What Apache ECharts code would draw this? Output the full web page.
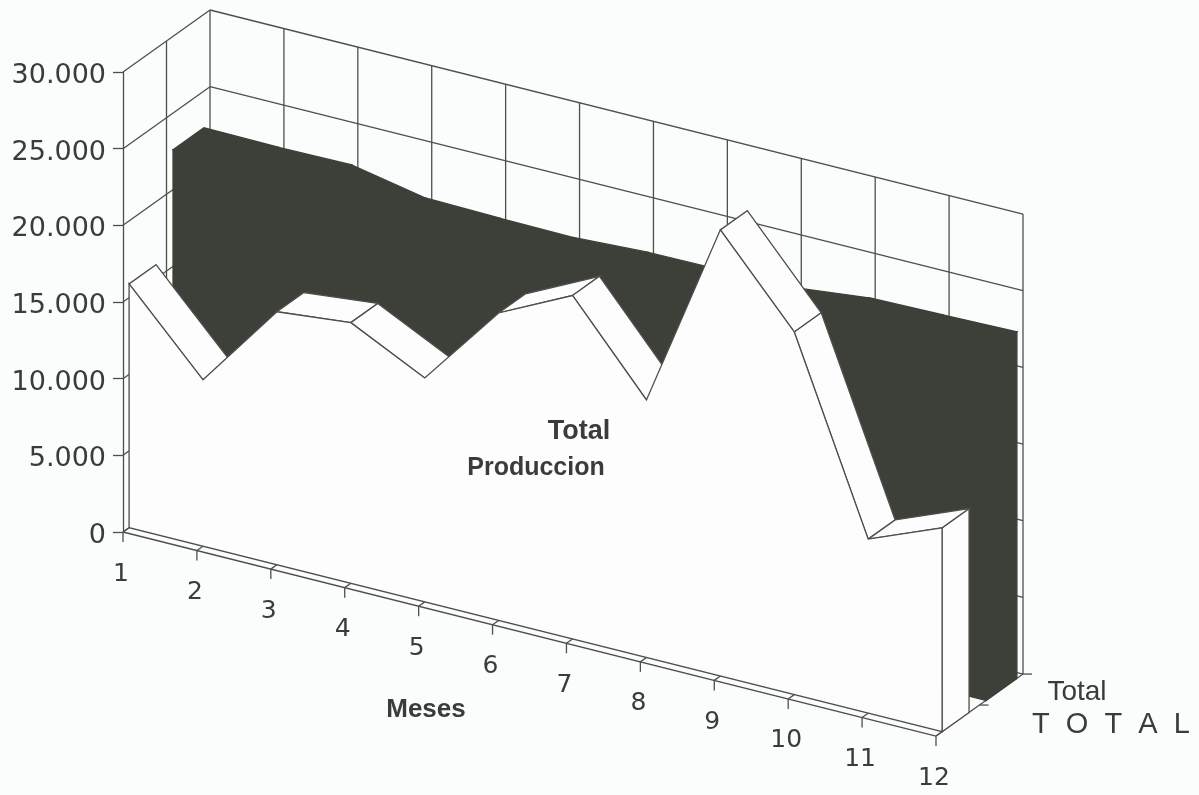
<!DOCTYPE html>
<html><head><meta charset="utf-8">
<style>html,body{margin:0;padding:0;background:#fbfcfc}#c{width:1199px;height:795px}</style>
<script src="https://cdn.jsdelivr.net/npm/echarts@6/dist/echarts.min.js"></script>
</head><body><div id="c"></div>
<script>
var months = [1,2,3,4,5,6,7,8,9,10,11,12];
var produccion = [15900,10850,16500,17000,14600,20050,22400,16800,29100,23650,11350,13300];
var total = [22600,22550,22600,21650,21550,21500,21750,21800,21850,22400,22500,22600];
var yTicks = [0,5000,10000,15000,20000,25000,30000];

var SHEAR = 18.55, DX = 87, DY = 62;
var FRONT_A = 0.07, FRONT_B = 0.38, BACK_A = 0.575, BACK_B = 0.93;
var LINE = '#4d4f4d', DARK = '#3c4039', TEXT = '#3a3c3a';

function P(api, m, v, d){
  var c = api.coord([m, v]);
  return [c[0] + d*DX, c[1] + (m-1)*SHEAR - d*DY];
}
function seg(a, b, w){
  return {type:'line', shape:{x1:a[0],y1:a[1],x2:b[0],y2:b[1]}, style:{stroke:LINE, lineWidth:w||1.3}};
}
function poly(pts, fill, stroke){
  return {type:'polygon', shape:{points:pts}, style:{fill:fill, stroke:stroke||null, lineWidth:1.3, lineJoin:'miter'}};
}
function once(fn){ return function(p, api){ return p.dataIndex===0 ? {type:'group', children:fn(api)} : null; }; }

function renderWalls(api){
  var out = [], last = months[months.length-1];
  months.forEach(function(m){ out.push(seg(P(api,m,0,1), P(api,m,30000,1))); });
  yTicks.forEach(function(v){
    out.push(seg(P(api,1,v,1), P(api,last,v,1)));
    out.push(seg(P(api,1,v,0), P(api,1,v,1)));
  });
  out.push(seg(P(api,1,0,0.5), P(api,1,30000,0.5)));
  out.push(seg(P(api,last,0,0), P(api,last,0,1)));
  var e = P(api,last,0,1), h = P(api,last,0,0.5);
  out.push(seg(e,[e[0]+9,e[1]]));
  out.push(seg(h,[h[0]+9,h[1]]));
  return out;
}
function renderDark(api){
  var out = [], n = months.length, f = [], i;
  for(i=0;i<n;i++) f.push(P(api,months[i],total[i],BACK_A));
  f.push(P(api,months[n-1],0,BACK_A)); f.push(P(api,months[0],0,BACK_A));
  out.push(poly(f,DARK,DARK));
  for(i=0;i<n-1;i++){
    out.push(poly([P(api,months[i],total[i],BACK_A),P(api,months[i],total[i],BACK_B),
      P(api,months[i+1],total[i+1],BACK_B),P(api,months[i+1],total[i+1],BACK_A)],DARK,DARK));
  }
  out.push(poly([P(api,months[n-1],total[n-1],BACK_A),P(api,months[n-1],total[n-1],BACK_B),
    P(api,months[n-1],0,BACK_B),P(api,months[n-1],0,BACK_A)],DARK,DARK));
  return out;
}
function renderFront(api){
  var out = [], n = months.length, f = [], i;
  out.push(poly([P(api,months[n-1],produccion[n-1],FRONT_A),P(api,months[n-1],produccion[n-1],FRONT_B),
    P(api,months[n-1],0,FRONT_B),P(api,months[n-1],0,FRONT_A)],'#fdfdfd',LINE));
  for(i=0;i<n-1;i++){
    var a = P(api,months[i],produccion[i],FRONT_A), b = P(api,months[i+1],produccion[i+1],FRONT_A);
    var ex = b[0]-a[0], ey = b[1]-a[1];
    var ox = (FRONT_B-FRONT_A)*DX, oy = -(FRONT_B-FRONT_A)*DY;
    if(ex*oy - ey*ox < 0){
      out.push(poly([a,P(api,months[i],produccion[i],FRONT_B),P(api,months[i+1],produccion[i+1],FRONT_B),b],'#fdfdfd',LINE));
    }
  }
  for(i=0;i<n;i++) f.push(P(api,months[i],produccion[i],FRONT_A));
  f.push(P(api,months[n-1],0,FRONT_A)); f.push(P(api,months[0],0,FRONT_A));
  out.push(poly(f,'#fdfdfd',LINE));
  return out;
}
function renderAxis(api){
  var out = [], n = months.length;
  out.push(seg(P(api,months[0],0,0),P(api,months[n-1],0,0)));
  months.forEach(function(m){
    var a = P(api,m,0,0), t = P(api,m,0,FRONT_A);
    out.push(seg(t,a));
    out.push(seg(a,[a[0],a[1]+10]));
    out.push({type:'text', style:{x:a[0]-2, y:a[1]+42, text:String(m), fill:TEXT,
      font:'25px "DejaVu Sans"', textAlign:'center', textVerticalAlign:'middle'}});
  });
  return out;
}
function custom(fn, data){
  return {type:'custom', coordinateSystem:'cartesian2d', renderItem:once(fn), data:data, clip:false,
          silent:true, animation:false};
}
var base = months.map(function(m,i){return [m,produccion[i]];});
var back = months.map(function(m,i){return [m,total[i]];});
function txt(x,y,s,size,bold){
  return {type:'text', x:x, y:y, z:50, silent:true, style:{text:s, fill:TEXT,
    font:(bold?'bold ':'')+size+'px "Liberation Sans"', textAlign:'center', textVerticalAlign:'middle'}};
}
var chart = echarts.init(document.getElementById('c'), null, {renderer:'canvas'});
chart.setOption({
  backgroundColor:'#fbfcfc', animation:false,
  grid:{left:123, top:72, width:813, height:460, containLabel:false, outerBoundsMode:'none'},
  xAxis:{type:'value', min:1, max:12, interval:1, show:false},
  yAxis:{type:'value', min:0, max:30000, interval:5000,
    axisLine:{show:true, lineStyle:{color:LINE, width:1.3}},
    axisTick:{show:true, length:10, lineStyle:{color:LINE, width:1.3}},
    splitLine:{show:false},
    axisLabel:{margin:17, color:TEXT,
      rich:{a:{fontFamily:'DejaVu Sans', fontSize:27, color:TEXT, padding:[8,0,0,0]}},
      formatter:function(v){return '{a|'+(v===0?'0':String(v).replace(/(\d)(\d{3})$/,'$1.$2'))+'}';}}},
  series:[custom(renderWalls,back),custom(renderDark,back),custom(renderFront,base),custom(renderAxis,base)],
  graphic:[
    txt(579,432,'Total',27,true),
    txt(536,468,'Produccion',25,true),
    txt(426,710,'Meses',26,true),
    txt(1077,692,'Total',28,false),
    txt(1111,725,'T  O  T  A  L',29,false)
  ]
});
</script></body></html>
